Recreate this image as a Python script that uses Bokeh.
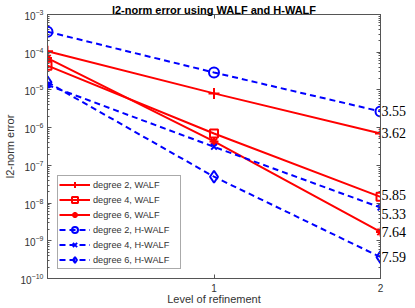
from bokeh.plotting import figure
from bokeh.models import (LogAxis, LinearAxis, FixedTicker, Legend, LegendItem, Range1d,
                          BasicTickFormatter, AllLabels)
from bokeh.embed import file_html
from bokeh.resources import INLINE

# ---- data ----
levels = [0, 1, 2]
walf_deg2 = [1.06e-4, 8.1e-6, 7.0e-7]
walf_deg4 = [4.4e-5, 7.0e-7, 1.46e-8]
walf_deg6 = [7.0e-5, 4.3e-7, 1.72e-9]
hwalf_deg2 = [3.5e-4, 2.9e-5, 2.69e-6]
hwalf_deg4 = [1.35e-5, 3.1e-7, 7.6e-9]
hwalf_deg6 = [1.6e-5, 5.0e-8, 3.7e-10]
rates = ["3.55", "3.62", "5.85", "5.33", "7.64", "7.59"]
rate_series = [hwalf_deg2, walf_deg2, walf_deg4, hwalf_deg4, walf_deg6, hwalf_deg6]
rate_nudge_px = [0, 0, 2, -6, 0, 0]
names = ["degree 2, WALF", "degree 4, WALF", "degree 6, WALF",
         "degree 2, H-WALF", "degree 4, H-WALF", "degree 6, H-WALF"]
x_tick_values = [1, 2]
y_exponents = list(range(-10, -2))

AX = "#555555"
TXT = "#333333"
SANS = "Liberation Sans"

p = figure(width=415, height=308, y_axis_type="log", title=None,
           x_range=Range1d(0, 2), y_range=Range1d(1e-10, 1e-3),
           output_backend="svg", toolbar_location=None,
           min_border_left=46, min_border_right=35, min_border_top=14, min_border_bottom=30)
p.grid.visible = False
p.outline_line_color = AX
p.background_fill_color = "white"
p.border_fill_color = "white"

yticks = [10.0 ** e for e in y_exponents]
yminor = [m * 10.0 ** e for e in y_exponents[:-1] for m in range(2, 10)]
yticker = FixedTicker(ticks=yticks, minor_ticks=yminor)
xticker = FixedTicker(ticks=x_tick_values, minor_ticks=[])


def style_axis(ax, show_labels=True):
    ax.major_tick_in = 4
    ax.major_tick_out = 0
    ax.minor_tick_in = 2
    ax.minor_tick_out = 0
    ax.axis_line_color = AX
    ax.major_tick_line_color = AX
    ax.minor_tick_line_color = AX
    ax.major_label_text_font = SANS
    ax.major_label_text_color = TXT
    ax.major_label_text_font_size = "10px"
    ax.major_label_standoff = 4
    ax.axis_label_text_font = SANS
    ax.axis_label_text_font_size = "11px"
    ax.axis_label_text_font_style = "normal"
    ax.axis_label_text_color = TXT
    if not show_labels:
        ax.major_label_text_alpha = 0
        ax.major_label_text_font_size = "1px"
        ax.major_label_standoff = 0


p.yaxis.ticker = yticker
p.xaxis.ticker = xticker
p.xaxis.formatter = BasicTickFormatter()
for ax in p.yaxis:
    style_axis(ax)
    ax.axis_label = "l2-norm error"
    ax.axis_label_standoff = 2
for ax in p.xaxis:
    style_axis(ax)
    ax.major_label_standoff = 5
    ax.axis_label = "Level of refinement"
    ax.axis_label_standoff = -2

# mirrored top axis carries the title
top = LinearAxis(ticker=xticker, formatter=BasicTickFormatter())
style_axis(top, show_labels=False)
top.axis_label = "l2-norm error using WALF and H-WALF"
top.axis_label_text_font_size = "11px"
top.axis_label_text_font_style = "bold"
top.axis_label_text_color = "black"
top.axis_label_standoff = -1
p.add_layout(top, "above")

right = LogAxis(ticker=yticker, formatter=BasicTickFormatter())
style_axis(right, show_labels=False)
p.add_layout(right, "right")

# convergence-rate labels at the right end of each series
px_per_decade = 37.6
rate_ticks = [vals[-1] * 10 ** (dy / px_per_decade)
              for vals, dy in zip(rate_series, rate_nudge_px)]
rate_axis = LogAxis(ticker=FixedTicker(ticks=rate_ticks, minor_ticks=[]),
                    major_label_overrides={t: s for t, s in zip(rate_ticks, rates)},
                    major_label_policy=AllLabels(),
                    major_tick_in=0, major_tick_out=0, minor_tick_in=0, minor_tick_out=0,
                    axis_line_color=None, major_label_standoff=1,
                    major_label_text_font="Liberation Serif",
                    major_label_text_font_size="14px", major_label_text_color="black")
p.add_layout(rate_axis, "right")

RED = "#ff0000"
BLUE = "#0000ff"
series = [
    (walf_deg2, RED, "solid", "cross", 11),
    (walf_deg4, RED, "solid", "square", 8),
    (walf_deg6, RED, "solid", "asterisk", 9),
    (hwalf_deg2, BLUE, "6 4", "circle", 10),
    (hwalf_deg4, BLUE, "6 4", "x", 8),
    (hwalf_deg6, BLUE, "6 4", "diamond", 12),
]
items = []
for (vals, col, dash, mk, sz), name in zip(series, names):
    ln = p.line(levels, vals, line_color=col, line_width=2, line_dash=dash)
    sc = p.scatter(levels, vals, marker=mk, size=sz, line_color=col, line_width=2,
                   fill_color=None)
    items.append(LegendItem(label=name, renderers=[ln, sc]))

legend = Legend(items=items, location=(10, 9), label_text_font=SANS,
                label_text_font_size="9.2px", label_text_color=TXT,
                glyph_width=31, glyph_height=15, label_height=15, label_width=86,
                spacing=-3, padding=1, label_standoff=3, border_line_color=AX,
                background_fill_color="white", background_fill_alpha=1, margin=0)
p.add_layout(legend)

open("out.html", "w").write(file_html(p, INLINE))
